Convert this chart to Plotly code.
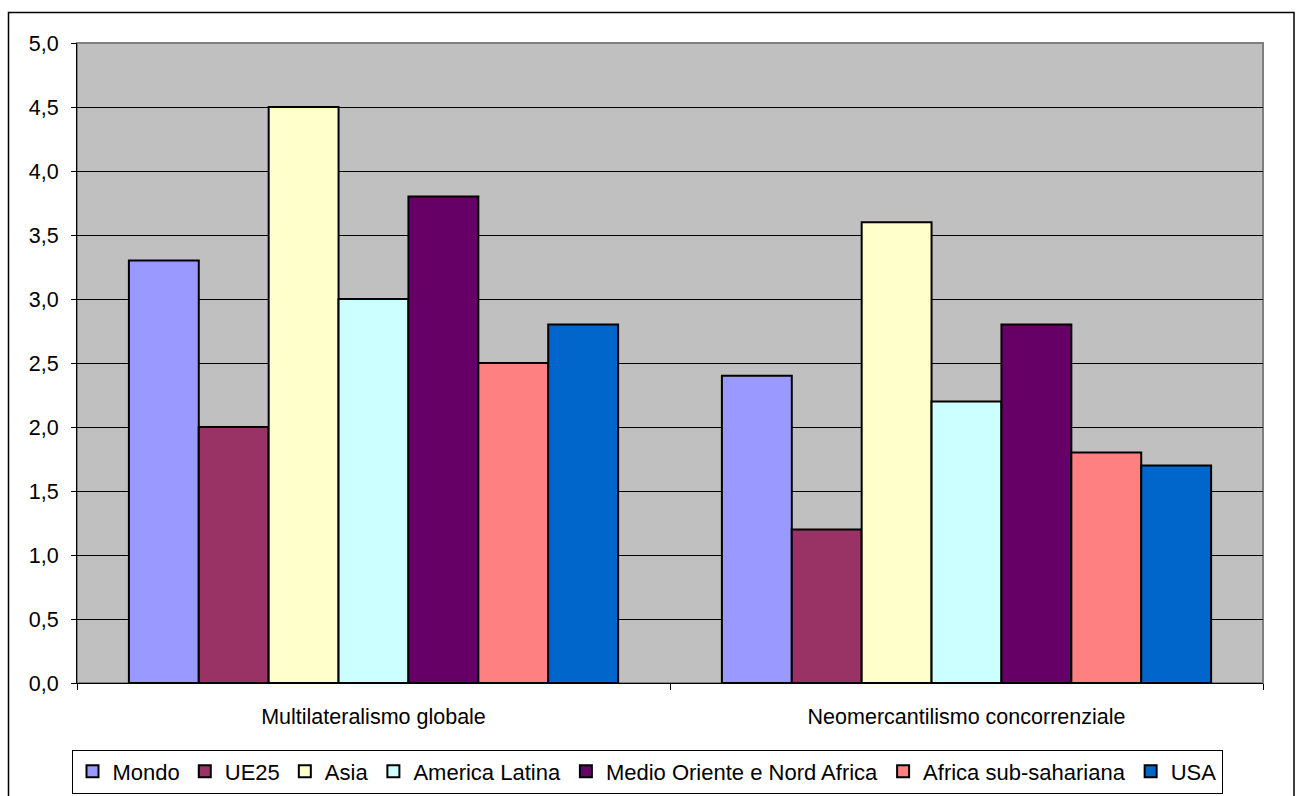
import plotly.graph_objects as go

categories = ["Multilateralismo globale", "Neomercantilismo concorrenziale"]
series_names = ["Mondo", "UE25", "Asia", "America Latina",
                "Medio Oriente e Nord Africa", "Africa sub-sahariana", "USA"]
series_values = [
    [3.3, 2.4],
    [2.0, 1.2],
    [4.5, 3.6],
    [3.0, 2.2],
    [3.8, 2.8],
    [2.5, 1.8],
    [2.8, 1.7],
]
series_colors = ["#9999FF", "#993366", "#FFFFCC", "#CCFFFF",
                 "#660066", "#FF8080", "#0066CC"]
y_ticks = [0.0, 0.5, 1.0, 1.5, 2.0, 2.5, 3.0, 3.5, 4.0, 4.5, 5.0]

W, H = 1296, 796
ML, MR, MT, MB = 77, 33, 43, 113
pw, ph = W - ML - MR, H - MT - MB

fig = go.Figure()
for name, vals, col in zip(series_names, series_values, series_colors):
    fig.add_trace(go.Bar(
        name=name, x=categories, y=vals,
        marker=dict(color=col, line=dict(color="black", width=2)),
    ))

def px_x(x):
    return (x - ML) / pw

def px_y(y):
    return (H - MB - y) / ph

shapes = [
    # plot area border
    dict(type="rect", xref="paper", yref="paper", x0=0, x1=1, y0=0, y1=1,
         line=dict(color="#808080", width=2), layer="below"),
    # outer chart frame
    dict(type="rect", xref="paper", yref="paper",
         x0=px_x(8.5), x1=px_x(1294), y0=px_y(805), y1=px_y(12.5),
         line=dict(color="black", width=1.5)),
]

fig.update_layout(
    width=W, height=H,
    margin=dict(l=ML, r=MR, t=MT, b=MB, autoexpand=False),
    paper_bgcolor="white", plot_bgcolor="#C0C0C0",
    barmode="group", bargap=0.175, bargroupgap=0,
    separators=",.",
    font=dict(family="Liberation Sans, Arial, sans-serif", color="black", size=21),
    shapes=shapes,
    legend=dict(
        orientation="h", x=px_x(647), xanchor="center",
        y=px_y(771.5), yanchor="middle",
        bordercolor="black", borderwidth=1, bgcolor="white",
        font=dict(size=22), itemwidth=30, traceorder="normal",
    ),
    showlegend=True,
)
fig.update_yaxes(
    range=[0, 5], tickvals=y_ticks, tickformat=".1f",
    showgrid=True, gridcolor="black", gridwidth=1,
    showline=True, linecolor="black", linewidth=1,
    ticks="outside", ticklen=5, tickcolor="black",
    tickfont=dict(size=21.5), zeroline=False, ticklabelstandoff=8,
)
fig.update_xaxes(
    showline=True, linecolor="black", linewidth=1,
    ticks="outside", ticklen=6, tickcolor="black", tickson="boundaries",
    tickfont=dict(size=21.5), ticklabelstandoff=14,
)

fig.write_html("out.html")
